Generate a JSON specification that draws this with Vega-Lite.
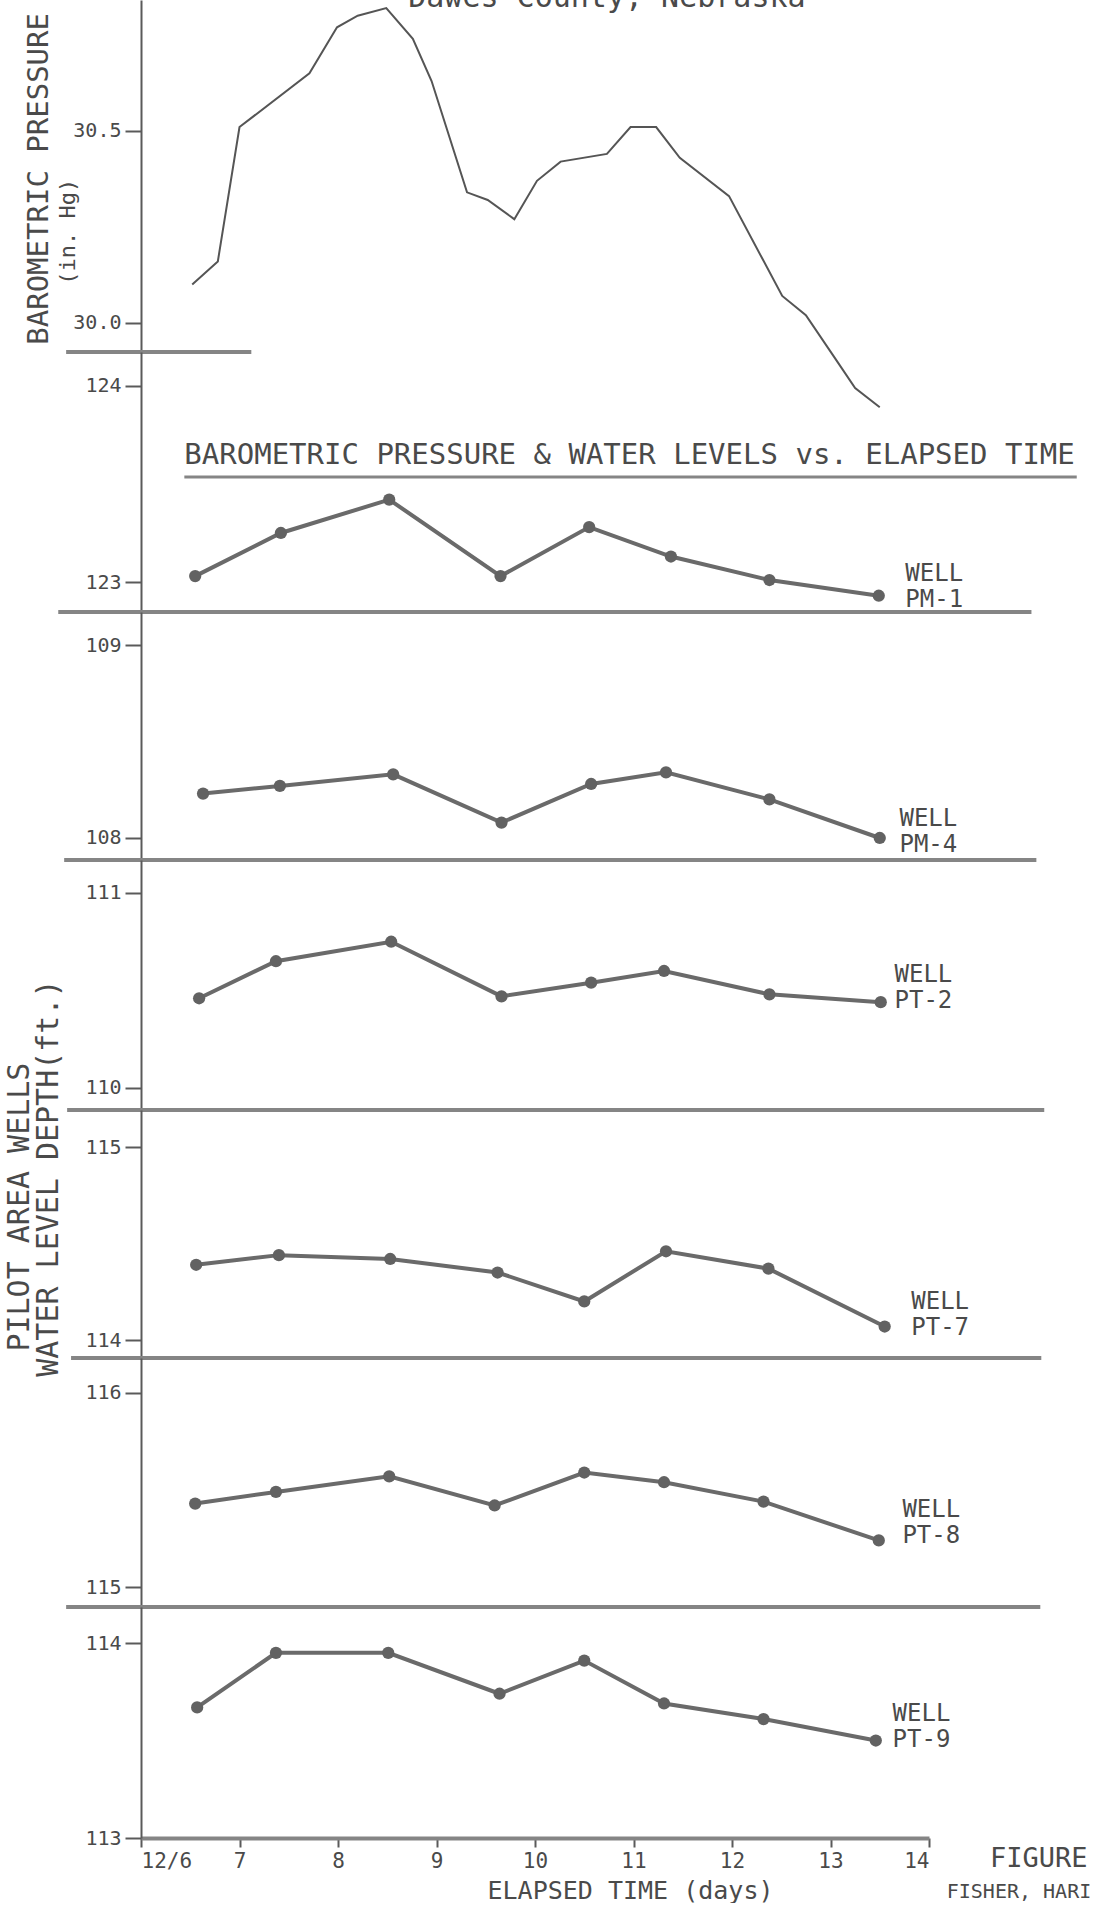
{
  "$schema": "https://vega.github.io/schema/vega-lite/v6.json",
  "background": "white",
  "padding": {"left": 4, "top": 0, "right": 0, "bottom": 0},
  "spacing": 0,
  "bounds": "flush",
  "config": {
    "view": {"stroke": null},
    "font": "DejaVu Sans Mono",
    "axis": {
      "labelFont": "DejaVu Sans Mono",
      "titleFont": "DejaVu Sans Mono",
      "labelColor": "#4a4a4a",
      "titleColor": "#4a4a4a",
      "domainColor": "#5a5a5a",
      "tickColor": "#5a5a5a",
      "titleFontWeight": "normal",
      "grid": false
    },
    "axisY": {"domainWidth": 2, "tickWidth": 2, "tickSize": 16, "labelFontSize": 20, "labelPadding": 4},
    "axisX": {"domainWidth": 4, "domainColor": "#858585", "tickSize": 9, "tickWidth": 2, "labelFontSize": 21, "labelPadding": 3, "titleFontSize": 25},
    "text": {"font": "DejaVu Sans Mono", "color": "#4a4a4a"},
    "rule": {"color": "#858585", "strokeWidth": 4}
  },
  "datasets": {
    "baro": [
      {"day": 6.52, "pressure": 30.10},
      {"day": 6.78, "pressure": 30.16},
      {"day": 7.00, "pressure": 30.51},
      {"day": 7.71, "pressure": 30.65},
      {"day": 7.99, "pressure": 30.77},
      {"day": 8.20, "pressure": 30.80},
      {"day": 8.49, "pressure": 30.82},
      {"day": 8.76, "pressure": 30.74},
      {"day": 8.95, "pressure": 30.63},
      {"day": 9.31, "pressure": 30.34},
      {"day": 9.52, "pressure": 30.32},
      {"day": 9.79, "pressure": 30.27},
      {"day": 10.02, "pressure": 30.37},
      {"day": 10.26, "pressure": 30.42},
      {"day": 10.73, "pressure": 30.44},
      {"day": 10.97, "pressure": 30.51},
      {"day": 11.23, "pressure": 30.51},
      {"day": 11.47, "pressure": 30.43},
      {"day": 11.97, "pressure": 30.33},
      {"day": 12.51, "pressure": 30.07},
      {"day": 12.75, "pressure": 30.02},
      {"day": 13.04, "pressure": 29.91},
      {"day": 13.25, "pressure": 29.83},
      {"day": 13.50, "pressure": 29.78}
    ],
    "wells": [
      {"well": "PM-1", "day": 6.55, "depth": 123.03},
      {"well": "PM-1", "day": 7.42, "depth": 123.25},
      {"well": "PM-1", "day": 8.52, "depth": 123.42},
      {"well": "PM-1", "day": 9.65, "depth": 123.03},
      {"well": "PM-1", "day": 10.55, "depth": 123.28},
      {"well": "PM-1", "day": 11.38, "depth": 123.13},
      {"well": "PM-1", "day": 12.38, "depth": 123.01},
      {"well": "PM-1", "day": 13.49, "depth": 122.93},
      {"well": "PM-4", "day": 6.63, "depth": 108.23},
      {"well": "PM-4", "day": 7.41, "depth": 108.27},
      {"well": "PM-4", "day": 8.56, "depth": 108.33},
      {"well": "PM-4", "day": 9.66, "depth": 108.08},
      {"well": "PM-4", "day": 10.57, "depth": 108.28},
      {"well": "PM-4", "day": 11.33, "depth": 108.34},
      {"well": "PM-4", "day": 12.38, "depth": 108.20},
      {"well": "PM-4", "day": 13.50, "depth": 108.00},
      {"well": "PT-2", "day": 6.59, "depth": 110.46},
      {"well": "PT-2", "day": 7.37, "depth": 110.65},
      {"well": "PT-2", "day": 8.54, "depth": 110.75},
      {"well": "PT-2", "day": 9.66, "depth": 110.47},
      {"well": "PT-2", "day": 10.57, "depth": 110.54},
      {"well": "PT-2", "day": 11.31, "depth": 110.60},
      {"well": "PT-2", "day": 12.38, "depth": 110.48},
      {"well": "PT-2", "day": 13.51, "depth": 110.44},
      {"well": "PT-7", "day": 6.56, "depth": 114.39},
      {"well": "PT-7", "day": 7.40, "depth": 114.44},
      {"well": "PT-7", "day": 8.53, "depth": 114.42},
      {"well": "PT-7", "day": 9.62, "depth": 114.35},
      {"well": "PT-7", "day": 10.50, "depth": 114.20},
      {"well": "PT-7", "day": 11.33, "depth": 114.46},
      {"well": "PT-7", "day": 12.37, "depth": 114.37},
      {"well": "PT-7", "day": 13.55, "depth": 114.07},
      {"well": "PT-8", "day": 6.55, "depth": 115.43},
      {"well": "PT-8", "day": 7.37, "depth": 115.49},
      {"well": "PT-8", "day": 8.52, "depth": 115.57},
      {"well": "PT-8", "day": 9.59, "depth": 115.42},
      {"well": "PT-8", "day": 10.50, "depth": 115.59},
      {"well": "PT-8", "day": 11.31, "depth": 115.54},
      {"well": "PT-8", "day": 12.32, "depth": 115.44},
      {"well": "PT-8", "day": 13.49, "depth": 115.24},
      {"well": "PT-9", "day": 6.57, "depth": 113.67},
      {"well": "PT-9", "day": 7.37, "depth": 113.95},
      {"well": "PT-9", "day": 8.51, "depth": 113.95},
      {"well": "PT-9", "day": 9.64, "depth": 113.74},
      {"well": "PT-9", "day": 10.50, "depth": 113.91},
      {"well": "PT-9", "day": 11.31, "depth": 113.69},
      {"well": "PT-9", "day": 12.32, "depth": 113.61},
      {"well": "PT-9", "day": 13.46, "depth": 113.50}
    ]
  },
  "vconcat": [
    {
      "width": 788,
      "height": 352,
      "layer": [
        {
          "data": {"name": "baro"},
          "mark": {"type": "line", "color": "#555555", "strokeWidth": 2},
          "encoding": {
            "x": {"field": "day", "type": "quantitative", "scale": {"domain": [6, 14], "nice": false, "zero": false}, "axis": null},
            "y": {"field": "pressure", "type": "quantitative", "scale": {"domain": [29.924, 30.841], "nice": false, "zero": false}, "axis": {"values": [30, 30.5], "format": ".1f", "title": null}}
          }
        },
        {
          "data": {"values": [{}]},
          "mark": {"type": "rule"},
          "encoding": {
            "x": {"datum": 5.24, "type": "quantitative", "scale": {"domain": [6, 14], "nice": false, "zero": false}, "axis": null},
            "x2": {"datum": 7.12},
            "y": {"datum": 29.924, "type": "quantitative", "scale": {"domain": [29.924, 30.841], "nice": false, "zero": false}, "axis": {"values": [30, 30.5], "format": ".1f", "title": null}}
          }
        },
        {
          "data": {"values": [{}]},
          "mark": {"type": "text", "text": "BAROMETRIC PRESSURE", "angle": 270, "fontSize": 29, "align": "center", "baseline": "middle"},
          "encoding": {
            "x": {"datum": 4.96, "type": "quantitative", "scale": {"domain": [6, 14], "nice": false, "zero": false}, "axis": null},
            "y": {"datum": 30.375, "type": "quantitative", "scale": {"domain": [29.924, 30.841], "nice": false, "zero": false}, "axis": {"values": [30, 30.5], "format": ".1f", "title": null}}
          }
        },
        {
          "data": {"values": [{}]},
          "mark": {"type": "text", "text": "(in. Hg)", "angle": 270, "fontSize": 22, "align": "center", "baseline": "middle"},
          "encoding": {
            "x": {"datum": 5.26, "type": "quantitative", "scale": {"domain": [6, 14], "nice": false, "zero": false}, "axis": null},
            "y": {"datum": 30.237, "type": "quantitative", "scale": {"domain": [29.924, 30.841], "nice": false, "zero": false}, "axis": {"values": [30, 30.5], "format": ".1f", "title": null}}
          }
        },
        {
          "data": {"values": [{}]},
          "mark": {"type": "text", "text": "Dawes  County, Nebraska", "fontSize": 30, "align": "center", "baseline": "alphabetic", "clip": true},
          "encoding": {
            "x": {"datum": 10.73, "type": "quantitative", "scale": {"domain": [6, 14], "nice": false, "zero": false}, "axis": null},
            "y": {"datum": 30.823, "type": "quantitative", "scale": {"domain": [29.924, 30.841], "nice": false, "zero": false}, "axis": {"values": [30, 30.5], "format": ".1f", "title": null}}
          }
        }
      ]
    },
    {
      "width": 788,
      "height": 260,
      "layer": [
        {
          "data": {"name": "wells"},
          "transform": [{"filter": "datum.well == 'PM-1'"}],
          "mark": {"type": "line", "color": "#6a6a6a", "strokeWidth": 4, "point": {"filled": true, "size": 150, "color": "#626262"}},
          "encoding": {
            "x": {"field": "day", "type": "quantitative", "scale": {"domain": [6, 14], "nice": false, "zero": false}, "axis": null},
            "y": {"field": "depth", "type": "quantitative", "scale": {"domain": [122.847, 124.173], "nice": false, "zero": false}, "axis": {"values": [123, 124], "format": "d", "title": null}}
          }
        },
        {
          "data": {"values": [{}]},
          "mark": {"type": "text", "text": "BAROMETRIC PRESSURE & WATER LEVELS vs. ELAPSED TIME", "fontSize": 29, "align": "left", "baseline": "middle"},
          "encoding": {
            "x": {"datum": 6.44, "type": "quantitative", "scale": {"domain": [6, 14], "nice": false, "zero": false}, "axis": null},
            "y": {"datum": 123.648, "type": "quantitative", "scale": {"domain": [122.847, 124.173], "nice": false, "zero": false}, "axis": {"values": [123, 124], "format": "d", "title": null}}
          }
        },
        {
          "data": {"values": [{}]},
          "mark": {"type": "rule", "strokeWidth": 3},
          "encoding": {
            "x": {"datum": 6.44, "type": "quantitative", "scale": {"domain": [6, 14], "nice": false, "zero": false}, "axis": null},
            "x2": {"datum": 15.5},
            "y": {"datum": 123.536, "type": "quantitative", "scale": {"domain": [122.847, 124.173], "nice": false, "zero": false}, "axis": {"values": [123, 124], "format": "d", "title": null}}
          }
        },
        {
          "data": {"values": [{}]},
          "mark": {"type": "rule"},
          "encoding": {
            "x": {"datum": 5.16, "type": "quantitative", "scale": {"domain": [6, 14], "nice": false, "zero": false}, "axis": null},
            "x2": {"datum": 15.04},
            "y": {"datum": 122.847, "type": "quantitative", "scale": {"domain": [122.847, 124.173], "nice": false, "zero": false}, "axis": {"values": [123, 124], "format": "d", "title": null}}
          }
        },
        {
          "data": {"values": [{}]},
          "mark": {"type": "text", "text": ["WELL", "PM-1"], "fontSize": 24, "lineHeight": 26, "align": "left", "baseline": "top"},
          "encoding": {
            "x": {"datum": 13.76, "type": "quantitative", "scale": {"domain": [6, 14], "nice": false, "zero": false}, "axis": null},
            "y": {"datum": 123.102, "type": "quantitative", "scale": {"domain": [122.847, 124.173], "nice": false, "zero": false}, "axis": {"values": [123, 124], "format": "d", "title": null}}
          }
        }
      ]
    },
    {
      "width": 788,
      "height": 248,
      "layer": [
        {
          "data": {"name": "wells"},
          "transform": [{"filter": "datum.well == 'PM-4'"}],
          "mark": {"type": "line", "color": "#6a6a6a", "strokeWidth": 4, "point": {"filled": true, "size": 150, "color": "#626262"}},
          "encoding": {
            "x": {"field": "day", "type": "quantitative", "scale": {"domain": [6, 14], "nice": false, "zero": false}, "axis": null},
            "y": {"field": "depth", "type": "quantitative", "scale": {"domain": [107.886, 109.171], "nice": false, "zero": false}, "axis": {"values": [108, 109], "format": "d", "title": null}}
          }
        },
        {
          "data": {"values": [{}]},
          "mark": {"type": "rule"},
          "encoding": {
            "x": {"datum": 5.22, "type": "quantitative", "scale": {"domain": [6, 14], "nice": false, "zero": false}, "axis": null},
            "x2": {"datum": 15.09},
            "y": {"datum": 107.886, "type": "quantitative", "scale": {"domain": [107.886, 109.171], "nice": false, "zero": false}, "axis": {"values": [108, 109], "format": "d", "title": null}}
          }
        },
        {
          "data": {"values": [{}]},
          "mark": {"type": "text", "text": ["WELL", "PM-4"], "fontSize": 24, "lineHeight": 26, "align": "left", "baseline": "top"},
          "encoding": {
            "x": {"datum": 13.70, "type": "quantitative", "scale": {"domain": [6, 14], "nice": false, "zero": false}, "axis": null},
            "y": {"datum": 108.161, "type": "quantitative", "scale": {"domain": [107.886, 109.171], "nice": false, "zero": false}, "axis": {"values": [108, 109], "format": "d", "title": null}}
          }
        }
      ]
    },
    {
      "width": 788,
      "height": 250,
      "layer": [
        {
          "data": {"name": "wells"},
          "transform": [{"filter": "datum.well == 'PT-2'"}],
          "mark": {"type": "line", "color": "#6a6a6a", "strokeWidth": 4, "point": {"filled": true, "size": 150, "color": "#626262"}},
          "encoding": {
            "x": {"field": "day", "type": "quantitative", "scale": {"domain": [6, 14], "nice": false, "zero": false}, "axis": null},
            "y": {"field": "depth", "type": "quantitative", "scale": {"domain": [109.887, 111.169], "nice": false, "zero": false}, "axis": {"values": [110, 111], "format": "d", "title": null}}
          }
        },
        {
          "data": {"values": [{}]},
          "mark": {"type": "rule"},
          "encoding": {
            "x": {"datum": 5.25, "type": "quantitative", "scale": {"domain": [6, 14], "nice": false, "zero": false}, "axis": null},
            "x2": {"datum": 15.17},
            "y": {"datum": 109.887, "type": "quantitative", "scale": {"domain": [109.887, 111.169], "nice": false, "zero": false}, "axis": {"values": [110, 111], "format": "d", "title": null}}
          }
        },
        {
          "data": {"values": [{}]},
          "mark": {"type": "text", "text": ["WELL", "PT-2"], "fontSize": 24, "lineHeight": 26, "align": "left", "baseline": "top"},
          "encoding": {
            "x": {"datum": 13.65, "type": "quantitative", "scale": {"domain": [6, 14], "nice": false, "zero": false}, "axis": null},
            "y": {"datum": 110.641, "type": "quantitative", "scale": {"domain": [109.887, 111.169], "nice": false, "zero": false}, "axis": {"values": [110, 111], "format": "d", "title": null}}
          }
        }
      ]
    },
    {
      "width": 788,
      "height": 248,
      "layer": [
        {
          "data": {"name": "wells"},
          "transform": [{"filter": "datum.well == 'PT-7'"}],
          "mark": {"type": "line", "color": "#6a6a6a", "strokeWidth": 4, "point": {"filled": true, "size": 150, "color": "#626262"}},
          "encoding": {
            "x": {"field": "day", "type": "quantitative", "scale": {"domain": [6, 14], "nice": false, "zero": false}, "axis": null},
            "y": {"field": "depth", "type": "quantitative", "scale": {"domain": [113.907, 115.192], "nice": false, "zero": false}, "axis": {"values": [114, 115], "format": "d", "title": null}}
          }
        },
        {
          "data": {"values": [{}]},
          "mark": {"type": "rule"},
          "encoding": {
            "x": {"datum": 5.29, "type": "quantitative", "scale": {"domain": [6, 14], "nice": false, "zero": false}, "axis": null},
            "x2": {"datum": 15.14},
            "y": {"datum": 113.907, "type": "quantitative", "scale": {"domain": [113.907, 115.192], "nice": false, "zero": false}, "axis": {"values": [114, 115], "format": "d", "title": null}}
          }
        },
        {
          "data": {"values": [{}]},
          "mark": {"type": "text", "text": ["WELL", "PT-7"], "fontSize": 24, "lineHeight": 26, "align": "left", "baseline": "top"},
          "encoding": {
            "x": {"datum": 13.82, "type": "quantitative", "scale": {"domain": [6, 14], "nice": false, "zero": false}, "axis": null},
            "y": {"datum": 114.259, "type": "quantitative", "scale": {"domain": [113.907, 115.192], "nice": false, "zero": false}, "axis": {"values": [114, 115], "format": "d", "title": null}}
          }
        },
        {
          "data": {"values": [{}]},
          "mark": {"type": "text", "text": "PILOT AREA WELLS", "angle": 270, "fontSize": 30, "align": "center", "baseline": "middle"},
          "encoding": {
            "x": {"datum": 4.77, "type": "quantitative", "scale": {"domain": [6, 14], "nice": false, "zero": false}, "axis": null},
            "y": {"datum": 114.689, "type": "quantitative", "scale": {"domain": [113.907, 115.192], "nice": false, "zero": false}, "axis": {"values": [114, 115], "format": "d", "title": null}}
          }
        },
        {
          "data": {"values": [{}]},
          "mark": {"type": "text", "text": "WATER LEVEL DEPTH(ft.)", "angle": 270, "fontSize": 30, "align": "center", "baseline": "middle"},
          "encoding": {
            "x": {"datum": 5.07, "type": "quantitative", "scale": {"domain": [6, 14], "nice": false, "zero": false}, "axis": null},
            "y": {"datum": 114.839, "type": "quantitative", "scale": {"domain": [113.907, 115.192], "nice": false, "zero": false}, "axis": {"values": [114, 115], "format": "d", "title": null}}
          }
        }
      ]
    },
    {
      "width": 788,
      "height": 249,
      "layer": [
        {
          "data": {"name": "wells"},
          "transform": [{"filter": "datum.well == 'PT-8'"}],
          "mark": {"type": "line", "color": "#6a6a6a", "strokeWidth": 4, "point": {"filled": true, "size": 150, "color": "#626262"}},
          "encoding": {
            "x": {"field": "day", "type": "quantitative", "scale": {"domain": [6, 14], "nice": false, "zero": false}, "axis": null},
            "y": {"field": "depth", "type": "quantitative", "scale": {"domain": [114.897, 116.18], "nice": false, "zero": false}, "axis": {"values": [115, 116], "format": "d", "title": null}}
          }
        },
        {
          "data": {"values": [{}]},
          "mark": {"type": "rule"},
          "encoding": {
            "x": {"datum": 5.24, "type": "quantitative", "scale": {"domain": [6, 14], "nice": false, "zero": false}, "axis": null},
            "x2": {"datum": 15.13},
            "y": {"datum": 114.897, "type": "quantitative", "scale": {"domain": [114.897, 116.18], "nice": false, "zero": false}, "axis": {"values": [115, 116], "format": "d", "title": null}}
          }
        },
        {
          "data": {"values": [{}]},
          "mark": {"type": "text", "text": ["WELL", "PT-8"], "fontSize": 24, "lineHeight": 26, "align": "left", "baseline": "top"},
          "encoding": {
            "x": {"datum": 13.73, "type": "quantitative", "scale": {"domain": [6, 14], "nice": false, "zero": false}, "axis": null},
            "y": {"datum": 115.459, "type": "quantitative", "scale": {"domain": [114.897, 116.18], "nice": false, "zero": false}, "axis": {"values": [115, 116], "format": "d", "title": null}}
          }
        }
      ]
    },
    {
      "width": 788,
      "height": 231,
      "layer": [
        {
          "data": {"name": "wells"},
          "transform": [{"filter": "datum.well == 'PT-9'"}],
          "mark": {"type": "line", "color": "#6a6a6a", "strokeWidth": 4, "point": {"filled": true, "size": 150, "color": "#626262"}},
          "encoding": {
            "x": {"field": "day", "type": "quantitative", "scale": {"domain": [6, 14], "nice": false, "zero": false}, "axis": {"values": [6, 7, 8, 9, 10, 11, 12, 13, 14], "labelExpr": "datum.value == 6 ? '12/6' : datum.label", "title": "ELAPSED TIME (days)", "titleX": 489, "titleY": 52, "titleAlign": "center", "titleBaseline": "middle"}},
            "y": {"field": "depth", "type": "quantitative", "scale": {"domain": [113.0, 114.185], "nice": false, "zero": false}, "axis": {"values": [113, 114], "format": "d", "title": null}}
          }
        },
        {
          "data": {"values": [{}]},
          "mark": {"type": "text", "text": ["WELL", "PT-9"], "fontSize": 24, "lineHeight": 26, "align": "left", "baseline": "top"},
          "encoding": {
            "x": {"datum": 13.63, "type": "quantitative", "scale": {"domain": [6, 14], "nice": false, "zero": false}, "axis": {"values": [6, 7, 8, 9, 10, 11, 12, 13, 14], "labelExpr": "datum.value == 6 ? '12/6' : datum.label", "title": "ELAPSED TIME (days)", "titleX": 489, "titleY": 52, "titleAlign": "center", "titleBaseline": "middle"}},
            "y": {"datum": 113.697, "type": "quantitative", "scale": {"domain": [113.0, 114.185], "nice": false, "zero": false}, "axis": {"values": [113, 114], "format": "d", "title": null}}
          }
        },
        {
          "data": {"values": [{}]},
          "mark": {"type": "text", "text": "FIGURE", "fontSize": 27, "align": "left", "baseline": "middle"},
          "encoding": {
            "x": {"datum": 14.62, "type": "quantitative", "scale": {"domain": [6, 14], "nice": false, "zero": false}, "axis": {"values": [6, 7, 8, 9, 10, 11, 12, 13, 14], "labelExpr": "datum.value == 6 ? '12/6' : datum.label", "title": "ELAPSED TIME (days)", "titleX": 489, "titleY": 52, "titleAlign": "center", "titleBaseline": "middle"}},
            "y": {"datum": 112.892, "type": "quantitative", "scale": {"domain": [113.0, 114.185], "nice": false, "zero": false}, "axis": {"values": [113, 114], "format": "d", "title": null}}
          }
        },
        {
          "data": {"values": [{}]},
          "mark": {"type": "text", "text": "FISHER, HARI", "fontSize": 20, "align": "left", "baseline": "middle"},
          "encoding": {
            "x": {"datum": 14.18, "type": "quantitative", "scale": {"domain": [6, 14], "nice": false, "zero": false}, "axis": {"values": [6, 7, 8, 9, 10, 11, 12, 13, 14], "labelExpr": "datum.value == 6 ? '12/6' : datum.label", "title": "ELAPSED TIME (days)", "titleX": 489, "titleY": 52, "titleAlign": "center", "titleBaseline": "middle"}},
            "y": {"datum": 112.725, "type": "quantitative", "scale": {"domain": [113.0, 114.185], "nice": false, "zero": false}, "axis": {"values": [113, 114], "format": "d", "title": null}}
          }
        }
      ]
    }
  ]
}
